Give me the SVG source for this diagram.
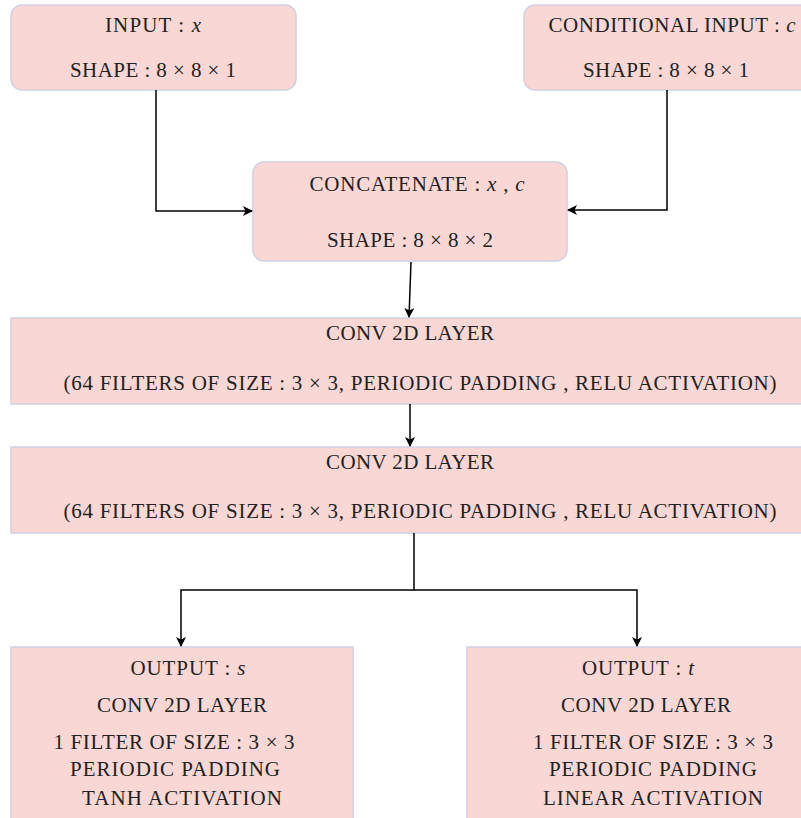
<svg xmlns="http://www.w3.org/2000/svg" width="801" height="818" viewBox="0 0 801 818">
<defs>
<marker id="ah" viewBox="0 0 10 10" refX="9" refY="5" markerWidth="10" markerHeight="10" orient="auto" markerUnits="userSpaceOnUse">
<path d="M0,0 L10,5 L0,10 L2.5,5 Z" fill="#000"/>
</marker>
<style>
.box{fill:#f9d7d4;stroke:#d3cfe2;stroke-width:1.5}
.t{font-family:"Liberation Serif","Times New Roman",serif;font-size:21px;fill:#222;text-anchor:middle}
.m{font-style:italic}
.c{fill:none;stroke:#000;stroke-width:1.5;marker-end:url(#ah)}
</style>
</defs>
<rect width="801" height="818" fill="#fff"/>
<g id="input_x">
<rect class="box" x="11" y="5" width="285" height="85" rx="11"/>
<text class="t" x="153" y="32" textLength="96">INPUT : <tspan class="m">x</tspan></text>
<text class="t" x="153" y="77" textLength="166">SHAPE : 8 × 8 × 1</text>
</g>
<g id="cond_input">
<rect class="box" x="524" y="5" width="290" height="85" rx="11"/>
<text class="t" x="672" y="32" textLength="247">CONDITIONAL INPUT : <tspan class="m">c</tspan></text>
<text class="t" x="666" y="77" textLength="166">SHAPE : 8 × 8 × 1</text>
</g>
<g id="concat">
<rect class="box" x="253" y="162" width="314" height="99" rx="11"/>
<text class="t" x="417" y="191" textLength="215">CONCATENATE : <tspan class="m">x</tspan> , <tspan class="m">c</tspan></text>
<text class="t" x="410" y="247" textLength="166">SHAPE : 8 × 8 × 2</text>
</g>
<g id="conv1">
<rect class="box" x="11" y="318" width="800" height="86"/>
<text class="t" x="410" y="340" textLength="168">CONV 2D LAYER</text>
<text class="t" x="420" y="390" textLength="713">(64 FILTERS OF SIZE : 3 × 3, PERIODIC PADDING ,  RELU ACTIVATION)</text>
</g>
<g id="conv2">
<rect class="box" x="11" y="447" width="800" height="86"/>
<text class="t" x="410" y="469" textLength="168">CONV 2D LAYER</text>
<text class="t" x="420" y="518" textLength="713">(64 FILTERS OF SIZE : 3 × 3, PERIODIC PADDING ,  RELU ACTIVATION)</text>
</g>
<g id="output_s">
<rect class="box" x="11" y="647" width="342" height="180"/>
<text class="t" x="188" y="675" textLength="115">OUTPUT : <tspan class="m">s</tspan></text>
<text class="t" x="182" y="712" textLength="170">CONV 2D LAYER</text>
<text class="t" x="174" y="749" textLength="241">1 FILTER OF SIZE : 3 × 3</text>
<text class="t" x="175" y="776" textLength="210">PERIODIC PADDING</text>
<text class="t" x="182" y="805" textLength="200">TANH ACTIVATION</text>
</g>
<g id="output_t">
<rect class="box" x="467" y="647" width="350" height="180"/>
<text class="t" x="638" y="675" textLength="112">OUTPUT : <tspan class="m">t</tspan></text>
<text class="t" x="646" y="712" textLength="170">CONV 2D LAYER</text>
<text class="t" x="653" y="749" textLength="240">1 FILTER OF SIZE : 3 × 3</text>
<text class="t" x="653" y="776" textLength="208">PERIODIC PADDING</text>
<text class="t" x="653" y="805" textLength="220">LINEAR ACTIVATION</text>
</g>
<g id="connectors">
<path class="c" d="M156,90 V211 H252"/>
<path class="c" d="M667,90 V210 H568"/>
<path class="c" d="M411,262 L409,317"/>
<path class="c" d="M410,404 V446"/>
<path class="c" d="M414,533 V590 H181 V646"/>
<path class="c" d="M414,590 H637 V646"/>
</g>
</svg>
